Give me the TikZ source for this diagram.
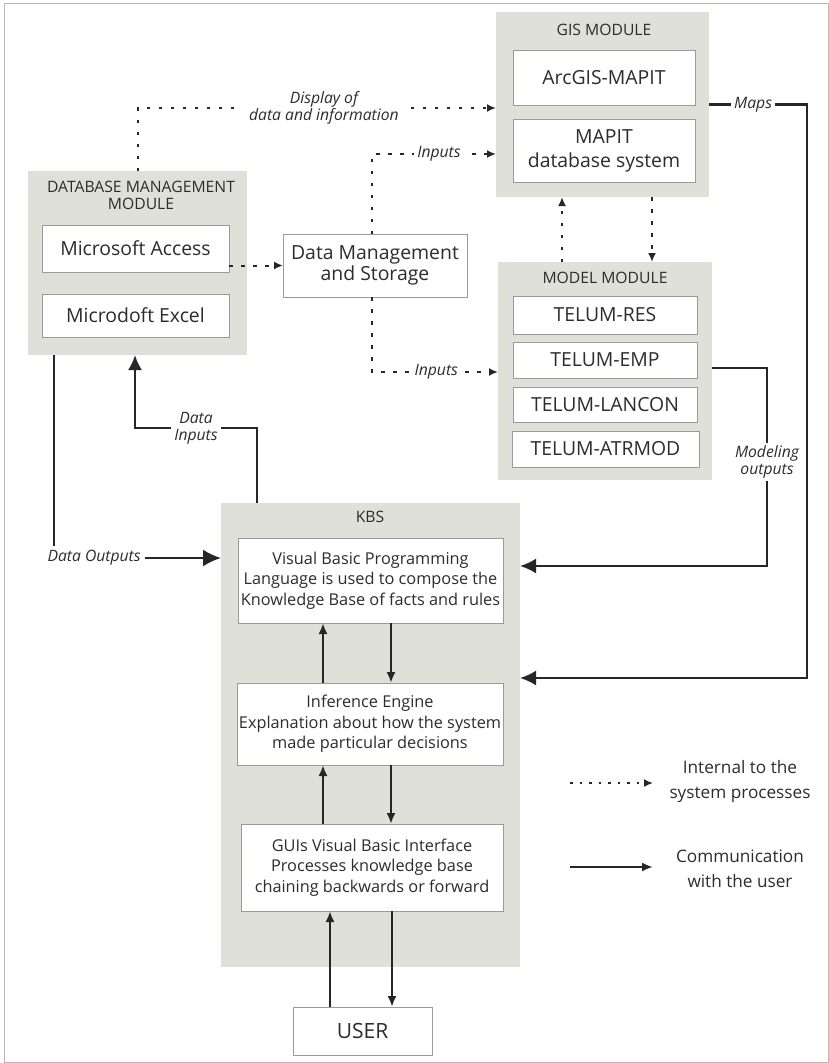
\documentclass[tikz,border=0pt]{standalone}
\usepackage{fontspec}
\setmainfont{Open Sans}
\usetikzlibrary{arrows.meta,calc}
\definecolor{modgray}{HTML}{DFE1D9}
\definecolor{ink}{HTML}{262626}
\definecolor{txt}{HTML}{2C2C2C}
\definecolor{bord}{HTML}{9A9A9A}
\begin{document}
\begin{tikzpicture}[x=1pt,y=-1pt,
  module/.style={fill=modgray, draw=none, inner sep=0pt, outer sep=0pt, anchor=north west},
  box/.style={fill=white, draw=bord, line width=0.7pt, inner sep=0pt, outer sep=0pt, anchor=north west, align=center, text=txt, font=\fontsize{19.4}{24}\selectfont},
  kbox/.style={box, font=\fontsize{16.3}{20.5}\selectfont},
  title/.style={text=txt, align=center, inner sep=0pt, font=\fontsize{15.7}{17}\selectfont},
  lab/.style={text=txt, align=center, font=\itshape\fontsize{15.7}{17}\selectfont, fill=white, inner sep=4pt},
  legtext/.style={text=txt, align=center, font=\fontsize{17.2}{25}\selectfont},
  dotline/.style={draw=ink, line width=2pt, dash pattern=on 3.5pt off 8.5pt},
  dotarrow/.style={dotline, -{Latex[length=9pt,width=8pt]}},
  solidarrow/.style={draw=ink, line width=2.2pt, -{Latex[length=16pt,width=15pt]}},
  smallarrow/.style={draw=ink, line width=2.2pt, -{Latex[length=11pt,width=9pt]}}
]
\useasboundingbox (0,0) rectangle (829,1063);
\draw[draw=bord!70, line width=1pt] (4,3) rectangle (828,1062);

% GIS module
\node[module, minimum width=213pt, minimum height=185pt] (gis) at (496,12) {};
\node[title] (gist) at (604,30) {GIS MODULE};
\node[box, minimum width=182pt, minimum height=55pt] (arc) at (513,50) {ArcGIS-MAPIT};
\node[box, minimum width=182pt, minimum height=63pt] (mapit) at (513,119) {MAPIT\\database system};

% Model module
\node[module, minimum width=214pt, minimum height=218pt] (model) at (498,262) {};
\node[title] (modelt) at (605,278) {MODEL MODULE};
\node[box, minimum width=184pt, minimum height=38pt] (res) at (513,296) {TELUM-RES};
\node[box, minimum width=184pt, minimum height=36pt] (emp) at (513,342) {TELUM-EMP};
\node[box, minimum width=184pt, minimum height=35pt] (lancon) at (513,387) {TELUM-LANCON};
\node[box, minimum width=187pt, minimum height=36pt] (atr) at (512,431) {TELUM-ATRMOD};

% Database management module
\node[module, minimum width=219pt, minimum height=184pt] (dbm) at (28,171) {};
\node[title] (dbmt) at (141,195) {DATABASE MANAGEMENT\\MODULE};
\node[box, minimum width=187pt, minimum height=47pt] (access) at (42,225) {Microsoft Access};
\node[box, minimum width=187pt, minimum height=43pt] (excel) at (42,294) {Microdoft Excel};

% Data management and storage
\node[box, minimum width=184pt, minimum height=63pt, font=\fontsize{19.4}{21.5}\selectfont] (dms) at (283,234) {Data Management\\and Storage};

% KBS
\node[module, minimum width=299pt, minimum height=464pt] (kbs) at (221,503) {};
\node[title] (kbst) at (370,517) {KBS};
\node[kbox, minimum width=265pt, minimum height=85pt] (vb) at (238,538) {Visual Basic Programming\\Language is used to compose the\\Knowledge Base of facts and rules};
\node[kbox, minimum width=266pt, minimum height=82pt] (inf) at (237,683) {Inference Engine\\Explanation about how the system\\made particular decisions};
\node[kbox, minimum width=262pt, minimum height=87pt] (gui) at (241,824) {GUIs Visual Basic Interface\\Processes knowledge base\\chaining backwards or forward};
\node[box, minimum width=139pt, minimum height=48pt, font=\fontsize{21}{24}\selectfont] (user) at (293,1007) {USER};

% helper positions
\coordinate (gu) at (562,0);
\coordinate (gd) at (652,0);
\coordinate (ku) at (323,0);
\coordinate (kd) at (391,0);
\coordinate (uu) at (330,0);
\coordinate (ud) at (392,0);
\coordinate (mapsx) at (807,0);
\coordinate (modx) at (767,0);
\coordinate (dix) at (257,428);
\coordinate (dil) at (135,428);
\coordinate (dox) at (54,0);
\coordinate (dmsx) at (372,0);
\coordinate (gin1) at ([yshift=-3.5pt]gis.west);
\coordinate (gin2) at ([yshift=-49.5pt]gis.west);
\coordinate (min1) at ([yshift=-1pt]model.west);
\coordinate (kin1) at ([yshift=169pt]kbs.east);
\coordinate (kin2) at ([yshift=57pt]kbs.east);
\coordinate (kin3) at ([yshift=177pt]kbs.west);
\coordinate (e1) at ([yshift=-8pt]emp.east);

% dotted connectors
\draw[dotarrow] (dbm.north) |- node[lab, pos=0.76, inner sep=10pt] {Display of\\data and information} (gin1);
\draw[dotarrow] (dms.north -| dmsx) |- node[lab, pos=0.77, inner sep=3pt] {Inputs} (gin2);
\draw[dotarrow] (dms.south -| dmsx) |- node[lab, pos=0.755, inner sep=3pt] {Inputs} (min1);
\draw[dotarrow] (model.north -| gu) -- (gis.south -| gu);
\draw[dotarrow] (gis.south -| gd) -- (model.north -| gd);
\draw[dotarrow] (dms.west -| access.east) -- (dms.west);

% solid connectors
\draw[solidarrow] (gis.east) -- node[lab, pos=0.45, inner sep=3pt] {Maps} (gis.east -| mapsx) |- (kin2);
\draw[solidarrow] (model.east |- e1) -| (modx |- kin1) -- (kin1);
\node[lab, inner sep=3pt] (modlab) at (767,462) {Modeling\\outputs};
\draw[smallarrow, -{Latex[length=15pt,width=14pt]}] (kbs.north -| dix) -- (dix) -- node[lab, inner sep=3pt] {Data\\Inputs} (dil) -- (dbm.south -| dil);
\draw[solidarrow, -{Latex[length=18pt,width=17pt]}] (dbm.south -| dox) |- node[lab, pos=0.62, inner sep=4pt] {Data Outputs} (kin3);

% KBS internal arrows
\draw[smallarrow] (inf.north -| ku) -- (vb.south -| ku);
\draw[smallarrow] (vb.south -| kd) -- (inf.north -| kd);
\draw[smallarrow] (gui.north -| ku) -- (inf.south -| ku);
\draw[smallarrow] (inf.south -| kd) -- (gui.north -| kd);
\draw[smallarrow] (user.north -| uu) -- (gui.south -| uu);
\draw[smallarrow] (gui.south -| ud) -- (user.north -| ud);

% legend
\coordinate (l1s) at (570,783);
\coordinate (l1e) at (653,783);
\coordinate (l2s) at (570,867);
\coordinate (l2e) at (653,867);
\draw[dotarrow, line width=1.6pt, dash pattern=on 2.5pt off 7pt] (l1s) -- (l1e);
\draw[smallarrow] (l2s) -- (l2e);
\node[legtext] (leg1) at (740,782) {Internal to the\\system processes};
\node[legtext] (leg2) at (740,869) {Communication\\with the user};
\end{tikzpicture}
\end{document}
